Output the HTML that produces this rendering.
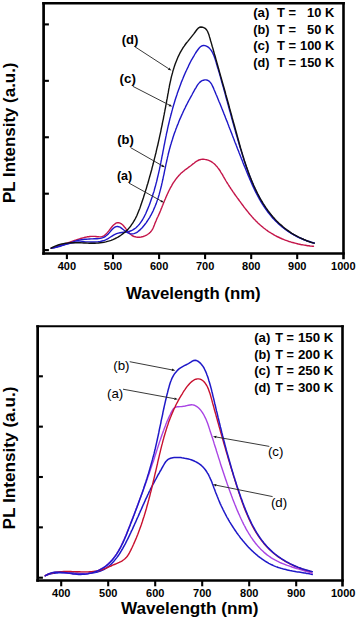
<!DOCTYPE html>
<html><head><meta charset="utf-8"><style>
html,body{margin:0;padding:0;background:#fff;width:357px;height:618px;overflow:hidden}
svg{display:block}
</style></head><body>
<svg width="357" height="618" viewBox="0 0 357 618">
<rect width="357" height="618" fill="#fff"/>
<line x1="42.25" y1="3.25" x2="344.8" y2="3.25" stroke="#000" stroke-width="2.3"/>
<line x1="43.6" y1="2.1" x2="43.6" y2="254.75" stroke="#000" stroke-width="2.7"/>
<line x1="42.25" y1="253.45" x2="344.8" y2="253.45" stroke="#000" stroke-width="2.6"/>
<line x1="343.5" y1="2.1" x2="343.5" y2="259.2" stroke="#000" stroke-width="2.6"/>
<line x1="43.7" y1="24.4" x2="48.9" y2="24.4" stroke="#000" stroke-width="2.1"/>
<line x1="43.7" y1="80.83" x2="48.9" y2="80.83" stroke="#000" stroke-width="2.1"/>
<line x1="43.7" y1="137.26" x2="48.9" y2="137.26" stroke="#000" stroke-width="2.1"/>
<line x1="43.7" y1="193.69" x2="48.9" y2="193.69" stroke="#000" stroke-width="2.1"/>
<line x1="43.7" y1="250.1" x2="48.9" y2="250.1" stroke="#000" stroke-width="2.1"/>
<line x1="66.9" y1="253" x2="66.9" y2="259.1" stroke="#000" stroke-width="2.1"/>
<text x="66.9" y="269.5" font-size="11" font-weight="bold" text-anchor="middle" font-family="Liberation Sans, sans-serif" >400</text>
<line x1="113.0" y1="253" x2="113.0" y2="259.1" stroke="#000" stroke-width="2.1"/>
<text x="113.0" y="269.5" font-size="11" font-weight="bold" text-anchor="middle" font-family="Liberation Sans, sans-serif" >500</text>
<line x1="159.1" y1="253" x2="159.1" y2="259.1" stroke="#000" stroke-width="2.1"/>
<text x="159.1" y="269.5" font-size="11" font-weight="bold" text-anchor="middle" font-family="Liberation Sans, sans-serif" >600</text>
<line x1="205.1" y1="253" x2="205.1" y2="259.1" stroke="#000" stroke-width="2.1"/>
<text x="205.1" y="269.5" font-size="11" font-weight="bold" text-anchor="middle" font-family="Liberation Sans, sans-serif" >700</text>
<line x1="251.2" y1="253" x2="251.2" y2="259.1" stroke="#000" stroke-width="2.1"/>
<text x="251.2" y="269.5" font-size="11" font-weight="bold" text-anchor="middle" font-family="Liberation Sans, sans-serif" >800</text>
<line x1="297.2" y1="253" x2="297.2" y2="259.1" stroke="#000" stroke-width="2.1"/>
<text x="297.2" y="269.5" font-size="11" font-weight="bold" text-anchor="middle" font-family="Liberation Sans, sans-serif" >900</text>
<text x="343.3" y="269.5" font-size="11" font-weight="bold" text-anchor="middle" font-family="Liberation Sans, sans-serif" >1000</text>
<text x="193.4" y="299" font-size="16.8" font-weight="bold" text-anchor="middle" font-family="Liberation Sans, sans-serif" >Wavelength (nm)</text>
<text transform="translate(14.6,203) rotate(-90)" font-size="16.9" font-weight="bold" font-family="Liberation Sans, sans-serif">PL Intensity (a.u.)</text>
<text x="253.2" y="17.4" font-size="12" font-weight="bold" text-anchor="start" font-family="Liberation Sans, sans-serif" textLength="16.2" lengthAdjust="spacingAndGlyphs">(a)</text>
<text x="277.0" y="17.4" font-size="12" font-weight="bold" text-anchor="start" font-family="Liberation Sans, sans-serif" textLength="19" lengthAdjust="spacingAndGlyphs">T =</text>
<text x="321.4" y="17.4" font-size="12" font-weight="bold" text-anchor="end" font-family="Liberation Sans, sans-serif" textLength="14.3" lengthAdjust="spacingAndGlyphs">10</text>
<text x="325.0" y="17.4" font-size="12" font-weight="bold" text-anchor="start" font-family="Liberation Sans, sans-serif" textLength="9.3" lengthAdjust="spacingAndGlyphs">K</text>
<text x="253.2" y="33.8" font-size="12" font-weight="bold" text-anchor="start" font-family="Liberation Sans, sans-serif" textLength="16.2" lengthAdjust="spacingAndGlyphs">(b)</text>
<text x="277.0" y="33.8" font-size="12" font-weight="bold" text-anchor="start" font-family="Liberation Sans, sans-serif" textLength="19" lengthAdjust="spacingAndGlyphs">T =</text>
<text x="321.4" y="33.8" font-size="12" font-weight="bold" text-anchor="end" font-family="Liberation Sans, sans-serif" textLength="14.3" lengthAdjust="spacingAndGlyphs">50</text>
<text x="325.0" y="33.8" font-size="12" font-weight="bold" text-anchor="start" font-family="Liberation Sans, sans-serif" textLength="9.3" lengthAdjust="spacingAndGlyphs">K</text>
<text x="253.2" y="50.199999999999996" font-size="12" font-weight="bold" text-anchor="start" font-family="Liberation Sans, sans-serif" textLength="16.2" lengthAdjust="spacingAndGlyphs">(c)</text>
<text x="277.0" y="50.199999999999996" font-size="12" font-weight="bold" text-anchor="start" font-family="Liberation Sans, sans-serif" textLength="19" lengthAdjust="spacingAndGlyphs">T =</text>
<text x="321.4" y="50.199999999999996" font-size="12" font-weight="bold" text-anchor="end" font-family="Liberation Sans, sans-serif" textLength="21.4" lengthAdjust="spacingAndGlyphs">100</text>
<text x="325.0" y="50.199999999999996" font-size="12" font-weight="bold" text-anchor="start" font-family="Liberation Sans, sans-serif" textLength="9.3" lengthAdjust="spacingAndGlyphs">K</text>
<text x="253.2" y="66.6" font-size="12" font-weight="bold" text-anchor="start" font-family="Liberation Sans, sans-serif" textLength="16.2" lengthAdjust="spacingAndGlyphs">(d)</text>
<text x="277.0" y="66.6" font-size="12" font-weight="bold" text-anchor="start" font-family="Liberation Sans, sans-serif" textLength="19" lengthAdjust="spacingAndGlyphs">T =</text>
<text x="321.4" y="66.6" font-size="12" font-weight="bold" text-anchor="end" font-family="Liberation Sans, sans-serif" textLength="21.4" lengthAdjust="spacingAndGlyphs">150</text>
<text x="325.0" y="66.6" font-size="12" font-weight="bold" text-anchor="start" font-family="Liberation Sans, sans-serif" textLength="9.3" lengthAdjust="spacingAndGlyphs">K</text>
<path d="M51.3,248.2 L52.4,247.9 L53.6,247.5 L54.7,247.2 L55.8,246.9 L57.0,246.5 L58.1,246.2 L59.2,245.8 L60.3,245.4 L61.5,245.0 L62.6,244.7 L63.7,244.3 L64.8,243.9 L66.0,243.5 L67.1,243.1 L68.2,242.7 L69.3,242.3 L70.4,241.9 L71.6,241.5 L72.7,241.1 L73.8,240.7 L74.9,240.3 L76.1,240.0 L77.2,239.6 L78.3,239.2 L79.4,238.9 L80.6,238.5 L81.7,238.2 L82.9,237.9 L84.0,237.6 L85.1,237.3 L86.3,237.1 L87.5,236.8 L88.6,236.7 L89.8,236.5 L91.0,236.4 L92.2,236.4 L93.4,236.4 L94.6,236.4 L95.8,236.5 L97.1,236.7 L98.3,236.8 L99.4,236.9 L100.6,236.9 L101.6,236.7 L102.6,236.4 L103.5,236.0 L104.4,235.5 L105.2,234.8 L106.0,234.1 L106.8,233.3 L107.6,232.4 L108.4,231.4 L109.2,230.4 L109.9,229.4 L110.8,228.3 L111.6,227.3 L112.4,226.3 L113.3,225.3 L114.2,224.5 L115.1,223.8 L116.0,223.2 L117.3,222.7 L118.7,222.6 L120.0,223.1 L121.0,223.6 L121.9,224.3 L122.8,225.1 L123.7,226.0 L124.5,227.0 L125.4,228.0 L126.2,229.1 L127.0,230.1 L127.8,231.2 L128.6,232.2 L129.4,233.1 L130.2,234.0 L131.1,234.8 L132.0,235.5 L133.0,236.0 L134.1,236.5 L135.2,236.8 L136.3,237.1 L137.4,237.2 L138.5,237.2 L139.7,237.2 L140.9,237.1 L142.0,236.8 L143.2,236.5 L144.3,236.1 L145.4,235.7 L146.5,235.1 L147.5,234.5 L148.5,233.8 L149.4,233.1 L150.3,232.2 L151.1,231.3 L151.8,230.4 L152.4,229.4 L153.0,228.3 L153.5,227.2 L153.9,226.1 L154.4,225.0 L154.8,223.8 L155.2,222.7 L155.7,221.6 L156.2,220.5 L156.6,219.4 L157.1,218.3 L157.6,217.2 L158.1,216.2 L158.6,215.1 L159.1,214.0 L159.6,212.9 L160.0,211.9 L160.5,210.8 L160.9,209.7 L161.3,208.6 L161.8,207.5 L162.2,206.4 L162.7,205.3 L163.1,204.2 L163.5,203.1 L164.0,202.0 L164.4,200.9 L164.9,199.8 L165.4,198.7 L165.8,197.6 L166.3,196.5 L166.8,195.4 L167.3,194.3 L167.8,193.2 L168.3,192.1 L168.8,191.0 L169.3,190.0 L169.9,188.9 L170.4,187.8 L171.0,186.8 L171.6,185.8 L172.2,184.7 L172.8,183.7 L173.4,182.7 L174.0,181.8 L174.7,180.8 L175.4,179.8 L176.1,178.9 L176.8,178.0 L177.5,177.1 L178.3,176.2 L179.1,175.3 L179.9,174.5 L180.7,173.6 L181.6,172.8 L182.5,172.1 L183.4,171.3 L184.3,170.6 L185.2,169.8 L186.2,169.1 L187.2,168.4 L188.1,167.7 L189.1,166.9 L190.1,166.2 L191.1,165.5 L192.0,164.7 L193.0,163.9 L194.0,163.2 L194.9,162.4 L195.9,161.7 L196.9,161.1 L197.9,160.5 L199.0,160.0 L200.0,159.7 L201.1,159.4 L202.3,159.3 L203.4,159.3 L204.6,159.4 L205.8,159.6 L206.9,159.8 L208.1,160.2 L209.2,160.6 L210.3,161.1 L211.3,161.7 L212.3,162.3 L213.2,163.0 L214.2,163.7 L215.0,164.5 L215.8,165.4 L216.6,166.2 L217.4,167.1 L218.1,168.1 L218.8,169.0 L219.5,170.0 L220.2,171.0 L220.8,172.1 L221.4,173.1 L222.1,174.1 L222.7,175.2 L223.3,176.3 L223.9,177.3 L224.5,178.4 L225.1,179.4 L225.7,180.5 L226.3,181.5 L226.9,182.5 L227.6,183.5 L228.2,184.5 L228.8,185.5 L229.5,186.5 L230.1,187.5 L230.8,188.5 L231.4,189.5 L232.1,190.4 L232.7,191.4 L233.4,192.4 L234.1,193.3 L234.7,194.3 L235.4,195.2 L236.1,196.2 L236.8,197.1 L237.5,198.1 L238.2,199.0 L238.9,200.0 L239.5,200.9 L240.3,201.9 L241.0,202.9 L241.7,203.8 L242.4,204.8 L243.1,205.7 L243.8,206.7 L244.5,207.6 L245.3,208.6 L246.0,209.5 L246.8,210.5 L247.5,211.4 L248.3,212.3 L249.0,213.3 L249.8,214.2 L250.6,215.1 L251.4,216.0 L252.1,216.9 L252.9,217.8 L253.7,218.7 L254.6,219.5 L255.4,220.4 L256.2,221.2 L257.1,222.1 L257.9,222.9 L258.8,223.7 L259.6,224.5 L260.5,225.3 L261.4,226.1 L262.3,226.8 L263.2,227.6 L264.1,228.3 L265.1,229.0 L266.0,229.7 L267.0,230.4 L267.9,231.1 L268.9,231.8 L269.9,232.4 L270.9,233.0 L271.9,233.6 L272.9,234.2 L273.9,234.8 L274.9,235.4 L276.0,236.0 L277.0,236.5 L278.1,237.0 L279.2,237.5 L280.2,238.0 L281.3,238.5 L282.4,239.0 L283.5,239.4 L284.6,239.9 L285.8,240.3 L286.9,240.7 L288.0,241.1 L289.1,241.5 L290.3,241.8 L291.4,242.2 L292.6,242.5 L293.7,242.8 L294.9,243.1 L296.1,243.4 L297.2,243.7 L298.4,244.0 L299.6,244.2 L300.7,244.5 L301.9,244.7 L303.1,244.9 L304.2,245.1 L305.4,245.3 L306.6,245.5 L307.7,245.7 L308.9,245.8 L310.1,246.0 L311.2,246.1 L312.4,246.2 L313.5,246.3 L313.5,246.3" fill="none" stroke="#c4164a" stroke-width="1.4" stroke-linejoin="round" stroke-linecap="round"/>
<path d="M51.3,248.1 L52.8,247.9 L54.4,247.7 L55.9,247.4 L57.5,247.0 L59.0,246.6 L60.5,246.2 L62.0,245.7 L63.5,245.2 L65.0,244.7 L66.5,244.2 L68.0,243.7 L69.4,243.1 L70.9,242.6 L72.4,242.1 L73.9,241.6 L75.4,241.1 L76.9,240.7 L78.5,240.3 L80.0,240.0 L81.5,239.7 L83.1,239.5 L84.7,239.3 L86.2,239.2 L87.8,239.1 L89.4,239.0 L91.0,238.9 L92.5,238.9 L94.1,238.8 L95.6,238.8 L97.1,238.7 L98.6,238.6 L100.1,238.4 L101.5,238.1 L102.9,237.7 L104.2,237.1 L105.5,236.3 L106.8,235.3 L108.0,234.2 L109.2,232.9 L110.3,231.6 L111.4,230.3 L112.6,229.1 L113.7,228.0 L114.9,227.2 L116.1,226.6 L117.3,226.4 L118.6,226.7 L120.0,227.2 L121.4,228.1 L122.8,229.2 L124.2,230.3 L125.7,231.4 L127.1,232.4 L128.5,233.2 L129.9,233.7 L131.3,233.9 L132.6,233.9 L133.9,233.6 L135.2,233.2 L136.5,232.6 L137.7,231.8 L138.8,230.9 L140.0,229.9 L141.1,228.8 L142.2,227.7 L143.2,226.5 L144.2,225.3 L145.2,224.0 L146.1,222.8 L147.0,221.5 L147.9,220.2 L148.7,218.9 L149.6,217.6 L150.3,216.2 L151.1,214.9 L151.8,213.5 L152.5,212.1 L153.2,210.7 L153.8,209.3 L154.4,207.9 L155.0,206.5 L155.6,205.0 L156.2,203.6 L156.7,202.1 L157.2,200.6 L157.7,199.2 L158.2,197.7 L158.6,196.2 L159.1,194.7 L159.5,193.1 L159.9,191.6 L160.3,190.1 L160.7,188.6 L161.1,187.0 L161.5,185.5 L161.8,183.9 L162.2,182.4 L162.5,180.8 L162.9,179.3 L163.2,177.7 L163.5,176.1 L163.9,174.6 L164.2,173.0 L164.5,171.4 L164.8,169.9 L165.2,168.3 L165.5,166.7 L165.8,165.2 L166.1,163.6 L166.5,162.1 L166.8,160.5 L167.2,158.9 L167.5,157.4 L167.9,155.9 L168.2,154.3 L168.6,152.8 L169.0,151.3 L169.4,149.7 L169.8,148.2 L170.2,146.7 L170.6,145.2 L171.1,143.7 L171.5,142.2 L172.0,140.7 L172.5,139.2 L172.9,137.7 L173.4,136.3 L173.9,134.8 L174.4,133.3 L174.9,131.9 L175.5,130.4 L176.0,128.9 L176.6,127.5 L177.1,126.0 L177.7,124.6 L178.3,123.2 L178.8,121.7 L179.4,120.3 L180.0,118.9 L180.7,117.4 L181.3,116.0 L181.9,114.6 L182.6,113.2 L183.2,111.8 L183.9,110.3 L184.6,108.9 L185.3,107.5 L185.9,106.1 L186.7,104.7 L187.4,103.3 L188.1,101.9 L188.8,100.5 L189.6,99.2 L190.3,97.8 L191.1,96.4 L191.9,95.0 L192.6,93.5 L193.4,92.1 L194.2,90.7 L195.0,89.2 L195.9,87.8 L196.7,86.3 L197.6,84.9 L198.6,83.6 L199.7,82.4 L200.9,81.4 L202.1,80.7 L203.5,80.2 L204.8,79.9 L206.1,79.9 L207.4,80.2 L208.6,80.8 L209.6,81.6 L210.5,82.6 L211.4,83.8 L212.1,85.2 L212.8,86.6 L213.5,88.1 L214.1,89.7 L214.8,91.2 L215.4,92.7 L216.0,94.2 L216.7,95.7 L217.3,97.2 L217.9,98.7 L218.5,100.2 L219.1,101.7 L219.8,103.2 L220.4,104.7 L221.0,106.2 L221.6,107.7 L222.1,109.1 L222.7,110.6 L223.3,112.1 L223.9,113.6 L224.5,115.0 L225.1,116.5 L225.6,118.0 L226.2,119.4 L226.8,120.9 L227.4,122.3 L227.9,123.8 L228.5,125.3 L229.0,126.7 L229.6,128.2 L230.2,129.6 L230.7,131.1 L231.3,132.5 L231.9,134.0 L232.4,135.4 L233.0,136.9 L233.5,138.3 L234.1,139.8 L234.6,141.2 L235.2,142.7 L235.8,144.1 L236.3,145.5 L236.9,147.0 L237.4,148.4 L238.0,149.9 L238.6,151.3 L239.1,152.8 L239.7,154.2 L240.3,155.7 L240.8,157.1 L241.4,158.6 L242.0,160.0 L242.6,161.5 L243.1,163.0 L243.7,164.4 L244.3,165.9 L244.9,167.3 L245.5,168.8 L246.1,170.3 L246.7,171.7 L247.3,173.2 L247.9,174.7 L248.5,176.1 L249.1,177.6 L249.7,179.1 L250.4,180.5 L251.0,182.0 L251.7,183.5 L252.3,184.9 L253.0,186.4 L253.6,187.8 L254.3,189.2 L255.0,190.7 L255.7,192.1 L256.4,193.5 L257.2,194.9 L257.9,196.3 L258.7,197.7 L259.4,199.1 L260.2,200.5 L261.0,201.8 L261.8,203.2 L262.7,204.5 L263.5,205.8 L264.4,207.1 L265.2,208.4 L266.1,209.7 L267.0,210.9 L268.0,212.2 L268.9,213.4 L269.9,214.6 L270.9,215.8 L271.9,217.0 L272.9,218.2 L274.0,219.3 L275.1,220.4 L276.2,221.5 L277.3,222.6 L278.4,223.7 L279.6,224.7 L280.8,225.7 L282.0,226.7 L283.2,227.7 L284.5,228.6 L285.8,229.5 L287.0,230.4 L288.4,231.3 L289.7,232.2 L291.0,233.0 L292.4,233.8 L293.7,234.6 L295.1,235.4 L296.5,236.1 L297.9,236.9 L299.3,237.6 L300.8,238.2 L302.2,238.9 L303.6,239.5 L305.1,240.2 L306.5,240.8 L308.0,241.3 L309.5,241.9 L311.0,242.4 L312.4,242.9 L313.2,243.2" fill="none" stroke="#1e18c8" stroke-width="1.4" stroke-linejoin="round" stroke-linecap="round"/>
<path d="M51.3,248.2 L53.0,247.8 L54.7,247.3 L56.4,246.9 L58.1,246.4 L59.7,245.9 L61.4,245.5 L63.1,245.0 L64.8,244.6 L66.5,244.1 L68.2,243.7 L69.9,243.3 L71.6,243.0 L73.3,242.7 L75.1,242.4 L76.8,242.2 L78.6,242.0 L80.3,241.9 L82.1,241.8 L83.9,241.8 L85.7,241.9 L87.4,241.9 L89.2,241.9 L91.0,242.0 L92.8,242.0 L94.5,242.0 L96.3,241.9 L98.0,241.8 L99.7,241.6 L101.3,241.2 L102.9,240.8 L104.5,240.3 L106.1,239.6 L107.6,238.9 L109.0,238.0 L110.5,237.0 L112.0,236.1 L113.5,235.2 L115.0,234.4 L116.6,233.7 L118.3,233.1 L120.0,232.8 L121.8,232.5 L123.6,232.3 L125.4,232.1 L127.2,231.9 L128.8,231.5 L130.4,231.0 L131.9,230.3 L133.3,229.6 L134.7,228.7 L136.0,227.7 L137.2,226.6 L138.3,225.4 L139.4,224.2 L140.4,222.8 L141.4,221.4 L142.4,220.0 L143.2,218.5 L144.1,216.9 L144.9,215.3 L145.7,213.7 L146.4,212.0 L147.1,210.4 L147.8,208.7 L148.5,207.0 L149.2,205.3 L149.8,203.7 L150.4,202.0 L151.0,200.3 L151.6,198.6 L152.2,196.9 L152.7,195.2 L153.2,193.5 L153.8,191.9 L154.3,190.2 L154.7,188.5 L155.2,186.8 L155.7,185.1 L156.1,183.4 L156.6,181.7 L157.0,180.0 L157.4,178.2 L157.8,176.5 L158.2,174.8 L158.6,173.1 L159.0,171.4 L159.4,169.7 L159.7,168.0 L160.1,166.3 L160.4,164.6 L160.8,162.9 L161.1,161.1 L161.5,159.4 L161.8,157.7 L162.1,156.0 L162.5,154.3 L162.8,152.6 L163.1,150.8 L163.5,149.1 L163.8,147.4 L164.1,145.7 L164.5,144.0 L164.8,142.3 L165.1,140.6 L165.5,138.8 L165.8,137.1 L166.2,135.4 L166.5,133.7 L166.9,132.0 L167.3,130.3 L167.6,128.6 L168.0,126.9 L168.4,125.2 L168.8,123.5 L169.2,121.8 L169.6,120.1 L170.0,118.4 L170.5,116.7 L170.9,115.0 L171.4,113.3 L171.8,111.6 L172.3,109.9 L172.7,108.2 L173.2,106.5 L173.7,104.8 L174.2,103.2 L174.7,101.5 L175.2,99.8 L175.8,98.1 L176.3,96.5 L176.9,94.8 L177.4,93.1 L178.0,91.5 L178.6,89.8 L179.2,88.2 L179.8,86.5 L180.4,84.9 L181.0,83.2 L181.6,81.6 L182.3,80.0 L183.0,78.3 L183.6,76.7 L184.3,75.1 L185.0,73.5 L185.7,71.9 L186.5,70.3 L187.2,68.7 L188.0,67.1 L188.7,65.5 L189.5,63.9 L190.3,62.3 L191.1,60.7 L192.0,59.2 L192.9,57.6 L193.8,56.1 L194.7,54.5 L195.6,53.0 L196.6,51.5 L197.7,50.0 L198.8,48.5 L199.9,47.3 L201.1,46.3 L202.3,45.7 L203.7,45.4 L205.0,45.6 L206.4,46.1 L207.8,46.9 L209.1,47.9 L210.2,49.1 L211.2,50.4 L212.1,51.8 L212.9,53.4 L213.6,55.0 L214.3,56.7 L214.9,58.4 L215.4,60.1 L216.0,61.9 L216.5,63.7 L217.0,65.4 L217.5,67.2 L218.1,68.9 L218.6,70.7 L219.1,72.4 L219.6,74.1 L220.1,75.9 L220.6,77.6 L221.1,79.3 L221.5,81.0 L222.0,82.7 L222.5,84.5 L223.0,86.2 L223.5,87.9 L223.9,89.6 L224.4,91.3 L224.9,92.9 L225.3,94.6 L225.8,96.3 L226.2,98.0 L226.7,99.7 L227.2,101.4 L227.6,103.0 L228.1,104.7 L228.5,106.4 L229.0,108.1 L229.4,109.7 L229.9,111.4 L230.4,113.1 L230.8,114.7 L231.3,116.4 L231.7,118.1 L232.2,119.7 L232.6,121.4 L233.1,123.1 L233.6,124.7 L234.0,126.4 L234.5,128.1 L235.0,129.7 L235.4,131.4 L235.9,133.1 L236.4,134.7 L236.9,136.4 L237.4,138.1 L237.8,139.8 L238.3,141.4 L238.8,143.1 L239.3,144.8 L239.8,146.5 L240.3,148.1 L240.9,149.8 L241.4,151.5 L241.9,153.2 L242.4,154.9 L243.0,156.6 L243.5,158.3 L244.0,160.0 L244.6,161.7 L245.2,163.3 L245.7,165.0 L246.3,166.7 L246.9,168.4 L247.5,170.1 L248.1,171.8 L248.7,173.5 L249.4,175.1 L250.0,176.8 L250.7,178.5 L251.3,180.1 L252.0,181.8 L252.7,183.4 L253.4,185.0 L254.1,186.7 L254.8,188.3 L255.6,189.9 L256.3,191.5 L257.1,193.1 L257.9,194.6 L258.7,196.2 L259.6,197.7 L260.4,199.3 L261.3,200.8 L262.1,202.3 L263.0,203.8 L263.9,205.2 L264.9,206.7 L265.8,208.1 L266.8,209.5 L267.8,210.9 L268.8,212.3 L269.9,213.7 L270.9,215.0 L272.0,216.4 L273.1,217.7 L274.2,218.9 L275.4,220.2 L276.6,221.4 L277.8,222.6 L279.0,223.8 L280.3,225.0 L281.5,226.1 L282.8,227.2 L284.2,228.3 L285.5,229.4 L286.9,230.4 L288.3,231.4 L289.8,232.4 L291.2,233.3 L292.8,234.2 L294.3,235.1 L295.8,235.9 L297.4,236.8 L299.1,237.6 L300.7,238.3 L302.4,239.0 L304.1,239.7 L305.9,240.4 L307.7,241.0 L309.5,241.5 L311.3,242.1 L313.2,242.6 L314.2,242.8" fill="none" stroke="#1e18c8" stroke-width="1.4" stroke-linejoin="round" stroke-linecap="round"/>
<path d="M51.1,248.2 L52.0,247.7 L52.9,247.2 L54.6,246.4 L56.4,245.6 L58.2,245.0 L60.0,244.4 L61.8,244.0 L63.6,243.6 L65.5,243.3 L67.3,243.1 L69.1,242.9 L70.9,242.8 L72.8,242.7 L74.6,242.7 L76.4,242.7 L78.3,242.8 L80.1,242.8 L81.9,242.9 L83.8,243.0 L85.6,243.0 L87.5,243.1 L89.3,243.2 L91.1,243.2 L93.0,243.2 L94.8,243.2 L96.7,243.1 L98.5,243.0 L100.3,242.8 L102.1,242.6 L103.9,242.3 L105.8,241.9 L107.6,241.4 L109.4,240.9 L111.1,240.3 L112.9,239.6 L114.6,238.8 L116.3,238.0 L118.0,237.1 L119.6,236.1 L121.2,235.0 L122.7,233.9 L124.2,232.8 L125.6,231.6 L127.0,230.3 L128.2,229.0 L129.4,227.6 L130.6,226.2 L131.6,224.7 L132.7,223.2 L133.6,221.7 L134.5,220.1 L135.4,218.5 L136.2,216.9 L137.0,215.2 L137.7,213.5 L138.4,211.8 L139.1,210.1 L139.8,208.4 L140.4,206.6 L141.0,204.8 L141.6,203.1 L142.2,201.3 L142.8,199.5 L143.4,197.7 L143.9,196.0 L144.5,194.2 L145.1,192.4 L145.6,190.6 L146.2,188.8 L146.7,187.1 L147.2,185.3 L147.8,183.5 L148.3,181.7 L148.8,179.9 L149.3,178.1 L149.8,176.3 L150.3,174.6 L150.8,172.8 L151.3,171.0 L151.8,169.2 L152.2,167.4 L152.7,165.6 L153.2,163.8 L153.6,162.0 L154.1,160.2 L154.5,158.4 L155.0,156.6 L155.4,154.8 L155.9,153.0 L156.3,151.2 L156.7,149.4 L157.1,147.6 L157.6,145.8 L158.0,144.0 L158.4,142.2 L158.8,140.4 L159.2,138.6 L159.6,136.7 L160.0,134.9 L160.4,133.1 L160.8,131.3 L161.1,129.5 L161.5,127.7 L161.9,125.8 L162.3,124.0 L162.6,122.2 L163.0,120.4 L163.4,118.6 L163.7,116.7 L164.1,114.9 L164.4,113.1 L164.8,111.2 L165.1,109.4 L165.5,107.6 L165.8,105.7 L166.2,103.9 L166.5,102.1 L166.8,100.2 L167.2,98.4 L167.5,96.6 L167.8,94.7 L168.2,92.9 L168.5,91.0 L168.8,89.2 L169.2,87.4 L169.5,85.5 L169.9,83.7 L170.3,81.9 L170.7,80.1 L171.1,78.2 L171.5,76.4 L172.0,74.6 L172.5,72.9 L172.9,71.1 L173.5,69.3 L174.0,67.6 L174.6,65.8 L175.2,64.1 L175.8,62.4 L176.5,60.7 L177.2,59.0 L177.9,57.3 L178.7,55.6 L179.5,54.0 L180.3,52.4 L181.2,50.8 L182.2,49.2 L183.1,47.6 L184.2,46.1 L185.3,44.5 L186.4,43.0 L187.6,41.6 L188.8,40.1 L190.0,38.6 L191.2,37.1 L192.4,35.6 L193.6,34.1 L194.8,32.5 L195.9,31.0 L197.0,29.5 L198.2,28.2 L199.5,27.3 L201.0,27.0 L202.6,27.2 L204.2,27.8 L205.6,28.7 L206.7,30.0 L207.6,31.5 L208.3,33.2 L209.0,35.1 L209.5,36.9 L210.1,38.8 L210.6,40.7 L211.2,42.6 L211.7,44.4 L212.2,46.3 L212.8,48.1 L213.3,50.0 L213.8,51.8 L214.3,53.6 L214.9,55.5 L215.4,57.3 L215.9,59.1 L216.4,60.9 L216.9,62.7 L217.4,64.5 L217.9,66.3 L218.4,68.0 L218.9,69.8 L219.4,71.6 L219.9,73.4 L220.4,75.2 L220.9,76.9 L221.4,78.7 L221.9,80.5 L222.4,82.2 L222.9,84.0 L223.4,85.7 L223.9,87.5 L224.4,89.2 L224.9,91.0 L225.4,92.8 L225.8,94.5 L226.3,96.3 L226.8,98.0 L227.3,99.8 L227.8,101.5 L228.3,103.3 L228.8,105.0 L229.2,106.8 L229.7,108.6 L230.2,110.3 L230.7,112.1 L231.2,113.9 L231.7,115.6 L232.1,117.4 L232.6,119.2 L233.1,121.0 L233.6,122.7 L234.1,124.5 L234.6,126.3 L235.1,128.1 L235.6,129.9 L236.1,131.7 L236.6,133.5 L237.1,135.4 L237.6,137.2 L238.1,139.0 L238.6,140.8 L239.1,142.7 L239.6,144.5 L240.1,146.3 L240.6,148.2 L241.2,150.0 L241.7,151.8 L242.3,153.6 L242.8,155.5 L243.4,157.3 L243.9,159.1 L244.5,160.9 L245.1,162.7 L245.7,164.5 L246.3,166.3 L246.9,168.1 L247.6,169.9 L248.2,171.7 L248.9,173.5 L249.5,175.3 L250.2,177.0 L250.9,178.8 L251.6,180.5 L252.3,182.2 L253.1,184.0 L253.8,185.7 L254.6,187.4 L255.4,189.1 L256.2,190.7 L257.0,192.4 L257.8,194.0 L258.7,195.7 L259.5,197.3 L260.4,198.9 L261.3,200.5 L262.3,202.0 L263.2,203.6 L264.2,205.1 L265.2,206.6 L266.2,208.1 L267.3,209.6 L268.3,211.1 L269.4,212.5 L270.5,213.9 L271.6,215.3 L272.8,216.7 L274.0,218.0 L275.2,219.4 L276.4,220.7 L277.7,221.9 L279.0,223.2 L280.3,224.4 L281.7,225.6 L283.0,226.8 L284.4,228.0 L285.9,229.1 L287.3,230.2 L288.8,231.2 L290.4,232.3 L291.9,233.3 L293.5,234.3 L295.1,235.2 L296.8,236.1 L298.5,237.0 L300.2,237.9 L302.0,238.7 L303.8,239.5 L305.6,240.2 L307.4,241.0 L308.4,241.3 L309.3,241.6 L310.3,242.0 L311.3,242.3 L312.3,242.6 L313.2,242.9 L314.2,243.2 L314.2,243.2" fill="none" stroke="#111111" stroke-width="1.4" stroke-linejoin="round" stroke-linecap="round"/>
<text x="121.7" y="44.3" font-size="12.4" font-weight="bold" text-anchor="start" font-family="Liberation Sans, sans-serif" textLength="16.7" lengthAdjust="spacingAndGlyphs">(d)</text>
<text x="119.5" y="83.2" font-size="12.4" font-weight="bold" text-anchor="start" font-family="Liberation Sans, sans-serif" textLength="16.4" lengthAdjust="spacingAndGlyphs">(c)</text>
<text x="117.3" y="144.4" font-size="12.4" font-weight="bold" text-anchor="start" font-family="Liberation Sans, sans-serif" textLength="16.6" lengthAdjust="spacingAndGlyphs">(b)</text>
<text x="116.9" y="180.3" font-size="12.4" font-weight="bold" text-anchor="start" font-family="Liberation Sans, sans-serif" textLength="15.3" lengthAdjust="spacingAndGlyphs">(a)</text>
<line x1="134.5" y1="46.5" x2="168.5" y2="68.6" stroke="#222" stroke-width="0.9"/><polygon points="171.4,70.5 167.9,69.7 169.2,67.6" fill="#111"/>
<line x1="132.8" y1="86.3" x2="169.2" y2="105.0" stroke="#222" stroke-width="0.9"/><polygon points="172.2,106.6 168.6,106.2 169.8,103.9" fill="#111"/>
<line x1="130.4" y1="147.5" x2="162.0" y2="165.6" stroke="#222" stroke-width="0.9"/><polygon points="164.9,167.3 161.3,166.7 162.6,164.5" fill="#111"/>
<line x1="129.0" y1="183.1" x2="161.0" y2="200.9" stroke="#222" stroke-width="0.9"/><polygon points="164.0,202.6 160.4,202.0 161.6,199.9" fill="#111"/>
<line x1="36.3" y1="326.2" x2="343.8" y2="326.2" stroke="#000" stroke-width="2.1"/>
<line x1="37.65" y1="325.2" x2="37.65" y2="581.85" stroke="#000" stroke-width="2.7"/>
<line x1="36.3" y1="580.5" x2="343.8" y2="580.5" stroke="#000" stroke-width="2.7"/>
<line x1="342.5" y1="325.2" x2="342.5" y2="586.6" stroke="#000" stroke-width="2.6"/>
<line x1="37.8" y1="376.3" x2="42.9" y2="376.3" stroke="#000" stroke-width="2.1"/>
<line x1="37.8" y1="426.65" x2="42.9" y2="426.65" stroke="#000" stroke-width="2.1"/>
<line x1="37.8" y1="477.0" x2="42.9" y2="477.0" stroke="#000" stroke-width="2.1"/>
<line x1="37.8" y1="527.35" x2="42.9" y2="527.35" stroke="#000" stroke-width="2.1"/>
<line x1="37.8" y1="577.7" x2="42.9" y2="577.7" stroke="#000" stroke-width="2.1"/>
<line x1="61.2" y1="580.5" x2="61.2" y2="586.3" stroke="#000" stroke-width="2.1"/>
<text x="61.2" y="597" font-size="11" font-weight="bold" text-anchor="middle" font-family="Liberation Sans, sans-serif" >400</text>
<line x1="108.2" y1="580.5" x2="108.2" y2="586.3" stroke="#000" stroke-width="2.1"/>
<text x="108.2" y="597" font-size="11" font-weight="bold" text-anchor="middle" font-family="Liberation Sans, sans-serif" >500</text>
<line x1="155.2" y1="580.5" x2="155.2" y2="586.3" stroke="#000" stroke-width="2.1"/>
<text x="155.2" y="597" font-size="11" font-weight="bold" text-anchor="middle" font-family="Liberation Sans, sans-serif" >600</text>
<line x1="202.2" y1="580.5" x2="202.2" y2="586.3" stroke="#000" stroke-width="2.1"/>
<text x="202.2" y="597" font-size="11" font-weight="bold" text-anchor="middle" font-family="Liberation Sans, sans-serif" >700</text>
<line x1="249.2" y1="580.5" x2="249.2" y2="586.3" stroke="#000" stroke-width="2.1"/>
<text x="249.2" y="597" font-size="11" font-weight="bold" text-anchor="middle" font-family="Liberation Sans, sans-serif" >800</text>
<line x1="296.2" y1="580.5" x2="296.2" y2="586.3" stroke="#000" stroke-width="2.1"/>
<text x="296.2" y="597" font-size="11" font-weight="bold" text-anchor="middle" font-family="Liberation Sans, sans-serif" >900</text>
<text x="343.2" y="597" font-size="11" font-weight="bold" text-anchor="middle" font-family="Liberation Sans, sans-serif" >1000</text>
<text x="120.9" y="613.7" font-size="17.0" font-weight="bold" text-anchor="start" font-family="Liberation Sans, sans-serif" textLength="137.6" lengthAdjust="spacingAndGlyphs">Wavelength (nm)</text>
<text transform="translate(15.3,529.4) rotate(-90)" font-size="17.4" font-weight="bold" textLength="142.8" lengthAdjust="spacingAndGlyphs" font-family="Liberation Sans, sans-serif">PL Intensity (a.u.)</text>
<text x="254.2" y="341.9" font-size="12" font-weight="bold" text-anchor="start" font-family="Liberation Sans, sans-serif" textLength="16.2" lengthAdjust="spacingAndGlyphs">(a)</text>
<text x="275.2" y="341.9" font-size="12" font-weight="bold" text-anchor="start" font-family="Liberation Sans, sans-serif" textLength="18.6" lengthAdjust="spacingAndGlyphs">T =</text>
<text x="297.9" y="341.9" font-size="12" font-weight="bold" text-anchor="start" font-family="Liberation Sans, sans-serif" textLength="35.4" lengthAdjust="spacingAndGlyphs">150 K</text>
<text x="254.2" y="358.53" font-size="12" font-weight="bold" text-anchor="start" font-family="Liberation Sans, sans-serif" textLength="16.2" lengthAdjust="spacingAndGlyphs">(b)</text>
<text x="275.2" y="358.53" font-size="12" font-weight="bold" text-anchor="start" font-family="Liberation Sans, sans-serif" textLength="18.6" lengthAdjust="spacingAndGlyphs">T =</text>
<text x="297.9" y="358.53" font-size="12" font-weight="bold" text-anchor="start" font-family="Liberation Sans, sans-serif" textLength="35.4" lengthAdjust="spacingAndGlyphs">200 K</text>
<text x="254.2" y="375.15999999999997" font-size="12" font-weight="bold" text-anchor="start" font-family="Liberation Sans, sans-serif" textLength="16.2" lengthAdjust="spacingAndGlyphs">(c)</text>
<text x="275.2" y="375.15999999999997" font-size="12" font-weight="bold" text-anchor="start" font-family="Liberation Sans, sans-serif" textLength="18.6" lengthAdjust="spacingAndGlyphs">T =</text>
<text x="297.9" y="375.15999999999997" font-size="12" font-weight="bold" text-anchor="start" font-family="Liberation Sans, sans-serif" textLength="35.4" lengthAdjust="spacingAndGlyphs">250 K</text>
<text x="254.2" y="391.78999999999996" font-size="12" font-weight="bold" text-anchor="start" font-family="Liberation Sans, sans-serif" textLength="16.2" lengthAdjust="spacingAndGlyphs">(d)</text>
<text x="275.2" y="391.78999999999996" font-size="12" font-weight="bold" text-anchor="start" font-family="Liberation Sans, sans-serif" textLength="18.6" lengthAdjust="spacingAndGlyphs">T =</text>
<text x="297.9" y="391.78999999999996" font-size="12" font-weight="bold" text-anchor="start" font-family="Liberation Sans, sans-serif" textLength="35.4" lengthAdjust="spacingAndGlyphs">300 K</text>
<path d="M45.6,575.5 L46.7,575.1 L47.7,574.7 L48.8,574.3 L50.0,574.0 L51.1,573.7 L52.3,573.5 L53.5,573.3 L54.7,573.2 L56.0,573.0 L57.2,572.9 L58.5,572.8 L59.8,572.8 L61.1,572.8 L62.4,572.8 L63.8,572.8 L65.1,572.8 L66.5,572.8 L67.9,572.9 L69.2,572.9 L70.6,573.0 L72.0,573.1 L73.4,573.1 L74.8,573.2 L76.2,573.3 L77.6,573.3 L79.0,573.4 L80.3,573.4 L81.7,573.4 L83.1,573.4 L84.5,573.4 L85.8,573.4 L87.2,573.4 L88.5,573.3 L89.8,573.2 L91.2,573.1 L92.4,572.9 L93.7,572.8 L95.0,572.5 L96.2,572.3 L97.5,572.0 L98.7,571.6 L99.8,571.3 L101.0,570.8 L102.1,570.4 L103.2,569.8 L104.3,569.3 L105.3,568.6 L106.4,568.0 L107.4,567.3 L108.3,566.6 L109.3,565.8 L110.2,565.0 L111.2,564.1 L112.0,563.2 L112.9,562.3 L113.8,561.4 L114.6,560.4 L115.4,559.4 L116.2,558.4 L117.0,557.4 L117.8,556.3 L118.6,555.2 L119.3,554.1 L120.0,553.0 L120.7,551.8 L121.4,550.7 L122.1,549.5 L122.8,548.4 L123.4,547.2 L124.1,546.0 L124.7,544.8 L125.4,543.6 L126.0,542.4 L126.6,541.2 L127.2,540.0 L127.8,538.8 L128.4,537.6 L129.0,536.4 L129.6,535.2 L130.1,534.0 L130.7,532.8 L131.2,531.6 L131.8,530.4 L132.4,529.3 L132.9,528.1 L133.4,526.9 L134.0,525.7 L134.5,524.5 L135.0,523.3 L135.6,522.2 L136.1,521.0 L136.6,519.8 L137.1,518.6 L137.6,517.5 L138.2,516.3 L138.7,515.1 L139.2,513.9 L139.7,512.8 L140.2,511.6 L140.7,510.4 L141.3,509.3 L141.8,508.1 L142.3,506.9 L142.8,505.7 L143.3,504.6 L143.9,503.4 L144.4,502.2 L144.9,501.1 L145.4,499.9 L146.0,498.7 L146.5,497.6 L147.1,496.4 L147.6,495.2 L148.2,494.0 L148.7,492.9 L149.3,491.7 L149.9,490.5 L150.4,489.4 L151.0,488.2 L151.6,487.0 L152.2,485.8 L152.8,484.7 L153.4,483.5 L154.1,482.3 L154.7,481.1 L155.3,479.9 L156.0,478.8 L156.6,477.6 L157.3,476.4 L157.9,475.2 L158.6,474.0 L159.3,472.8 L159.9,471.7 L160.6,470.5 L161.3,469.3 L161.9,468.1 L162.6,467.0 L163.2,465.8 L163.9,464.7 L164.5,463.6 L165.2,462.5 L165.9,461.5 L166.7,460.7 L167.5,459.9 L168.5,459.2 L169.5,458.7 L170.5,458.3 L171.7,458.0 L172.8,457.7 L174.1,457.6 L175.3,457.5 L176.6,457.5 L177.9,457.5 L179.2,457.5 L180.6,457.6 L181.9,457.8 L183.2,457.9 L184.6,458.2 L185.9,458.4 L187.2,458.7 L188.5,459.0 L189.8,459.4 L191.1,459.8 L192.4,460.3 L193.6,460.8 L194.8,461.3 L196.0,461.9 L197.1,462.5 L198.2,463.2 L199.3,463.9 L200.3,464.6 L201.3,465.4 L202.2,466.3 L203.1,467.1 L203.9,468.1 L204.7,469.0 L205.5,470.0 L206.2,471.0 L206.9,472.1 L207.5,473.1 L208.2,474.2 L208.8,475.4 L209.3,476.5 L209.9,477.7 L210.4,478.9 L211.0,480.1 L211.5,481.3 L212.0,482.5 L212.4,483.8 L212.9,485.0 L213.4,486.3 L213.8,487.5 L214.3,488.8 L214.8,490.0 L215.2,491.3 L215.7,492.6 L216.2,493.8 L216.7,495.0 L217.2,496.3 L217.7,497.5 L218.2,498.7 L218.7,500.0 L219.2,501.2 L219.7,502.4 L220.2,503.6 L220.8,504.8 L221.3,506.0 L221.9,507.2 L222.5,508.3 L223.0,509.5 L223.6,510.7 L224.2,511.9 L224.8,513.0 L225.4,514.2 L226.0,515.3 L226.6,516.5 L227.2,517.6 L227.9,518.7 L228.5,519.9 L229.2,521.0 L229.8,522.1 L230.5,523.2 L231.2,524.3 L231.9,525.4 L232.6,526.5 L233.3,527.6 L234.0,528.7 L234.7,529.8 L235.4,530.8 L236.2,531.9 L236.9,533.0 L237.7,534.0 L238.5,535.1 L239.3,536.1 L240.0,537.2 L240.8,538.2 L241.7,539.2 L242.5,540.3 L243.3,541.3 L244.2,542.3 L245.0,543.3 L245.9,544.3 L246.7,545.2 L247.6,546.2 L248.5,547.2 L249.4,548.1 L250.3,549.1 L251.3,550.0 L252.2,550.9 L253.2,551.8 L254.1,552.7 L255.1,553.5 L256.1,554.4 L257.1,555.2 L258.1,556.1 L259.1,556.9 L260.1,557.7 L261.2,558.4 L262.2,559.2 L263.3,559.9 L264.4,560.6 L265.5,561.3 L266.6,562.0 L267.7,562.6 L268.8,563.3 L269.9,563.9 L271.1,564.5 L272.3,565.0 L273.5,565.6 L274.6,566.1 L275.9,566.6 L277.1,567.0 L278.3,567.5 L279.6,567.9 L280.8,568.3 L282.1,568.6 L283.4,569.0 L284.6,569.3 L285.9,569.6 L287.2,569.9 L288.5,570.2 L289.8,570.5 L291.2,570.7 L292.5,571.0 L293.8,571.2 L295.1,571.4 L296.4,571.7 L297.7,571.9 L299.0,572.1 L300.3,572.3 L301.6,572.5 L302.9,572.7 L304.2,572.9 L305.4,573.1 L306.7,573.4 L308.0,573.6 L309.2,573.8 L310.4,574.1 L311.6,574.3 L312.2,574.5" fill="none" stroke="#1e18c8" stroke-width="1.5" stroke-linejoin="round" stroke-linecap="round"/>
<path d="M45.2,575.8 L46.7,574.9 L48.2,574.2 L49.7,573.5 L51.2,573.1 L52.7,572.7 L54.3,572.4 L55.8,572.2 L57.4,572.2 L58.9,572.2 L60.5,572.2 L62.1,572.3 L63.7,572.5 L65.3,572.7 L66.9,572.9 L68.5,573.1 L70.1,573.3 L71.7,573.6 L73.3,573.8 L74.9,574.0 L76.5,574.1 L78.1,574.2 L79.8,574.3 L81.4,574.2 L83.0,574.2 L84.6,574.0 L86.2,573.8 L87.8,573.6 L89.4,573.3 L90.9,572.9 L92.5,572.5 L94.0,572.1 L95.5,571.6 L97.0,571.0 L98.4,570.4 L99.8,569.7 L101.2,569.0 L102.5,568.2 L103.8,567.4 L105.0,566.5 L106.2,565.6 L107.4,564.6 L108.5,563.6 L109.6,562.5 L110.7,561.4 L111.7,560.3 L112.7,559.1 L113.7,557.9 L114.6,556.7 L115.5,555.4 L116.4,554.1 L117.2,552.8 L118.0,551.5 L118.8,550.1 L119.6,548.7 L120.4,547.3 L121.1,545.8 L121.8,544.4 L122.5,542.9 L123.2,541.4 L123.9,539.9 L124.5,538.4 L125.2,536.9 L125.8,535.4 L126.5,533.9 L127.1,532.3 L127.7,530.8 L128.3,529.3 L128.9,527.7 L129.5,526.2 L130.1,524.7 L130.7,523.2 L131.2,521.7 L131.8,520.2 L132.4,518.7 L133.0,517.2 L133.6,515.7 L134.2,514.2 L134.7,512.7 L135.3,511.2 L135.9,509.7 L136.4,508.2 L137.0,506.8 L137.6,505.3 L138.1,503.8 L138.7,502.3 L139.2,500.9 L139.8,499.4 L140.3,497.9 L140.9,496.5 L141.4,495.0 L142.0,493.5 L142.5,492.0 L143.1,490.6 L143.6,489.1 L144.1,487.6 L144.7,486.2 L145.2,484.7 L145.7,483.2 L146.3,481.8 L146.8,480.3 L147.3,478.8 L147.8,477.3 L148.3,475.8 L148.9,474.4 L149.4,472.9 L149.9,471.4 L150.4,469.9 L150.9,468.4 L151.4,466.9 L151.9,465.4 L152.4,463.9 L152.9,462.4 L153.5,460.9 L154.0,459.4 L154.5,457.8 L154.9,456.3 L155.4,454.8 L155.9,453.2 L156.4,451.7 L156.9,450.1 L157.4,448.6 L157.9,447.1 L158.4,445.5 L158.9,444.0 L159.4,442.4 L159.9,440.9 L160.5,439.3 L161.0,437.8 L161.5,436.3 L162.0,434.7 L162.6,433.2 L163.1,431.7 L163.7,430.2 L164.2,428.7 L164.8,427.2 L165.4,425.7 L165.9,424.2 L166.5,422.8 L167.1,421.3 L167.8,419.9 L168.4,418.4 L169.0,417.0 L169.7,415.6 L170.4,414.2 L171.0,412.9 L171.7,411.5 L172.5,410.2 L173.3,409.0 L174.2,408.0 L175.4,407.3 L176.8,406.8 L178.3,406.7 L180.0,406.6 L181.8,406.5 L183.5,406.3 L185.2,406.0 L186.8,405.6 L188.4,405.2 L190.0,405.0 L191.5,404.8 L192.9,404.9 L194.3,405.2 L195.6,405.8 L196.9,406.6 L198.1,407.5 L199.2,408.6 L200.3,409.7 L201.2,410.9 L202.1,412.2 L203.0,413.5 L203.8,414.8 L204.5,416.2 L205.2,417.6 L205.9,419.0 L206.5,420.5 L207.1,422.0 L207.7,423.5 L208.2,425.0 L208.7,426.5 L209.2,428.1 L209.7,429.6 L210.2,431.2 L210.7,432.7 L211.2,434.2 L211.7,435.8 L212.2,437.3 L212.7,438.8 L213.2,440.4 L213.7,441.9 L214.1,443.4 L214.6,445.0 L215.1,446.5 L215.6,448.0 L216.1,449.5 L216.5,451.0 L217.0,452.6 L217.5,454.1 L218.0,455.6 L218.4,457.1 L218.9,458.6 L219.4,460.1 L219.9,461.6 L220.3,463.1 L220.8,464.7 L221.3,466.2 L221.8,467.7 L222.3,469.2 L222.8,470.7 L223.3,472.2 L223.8,473.7 L224.3,475.2 L224.8,476.7 L225.3,478.2 L225.8,479.7 L226.3,481.1 L226.8,482.6 L227.3,484.1 L227.8,485.6 L228.4,487.1 L228.9,488.6 L229.4,490.1 L230.0,491.6 L230.5,493.1 L231.1,494.6 L231.6,496.0 L232.2,497.5 L232.7,499.0 L233.3,500.5 L233.9,502.0 L234.5,503.5 L235.1,505.0 L235.7,506.4 L236.3,507.9 L236.9,509.4 L237.5,510.9 L238.2,512.4 L238.8,513.9 L239.5,515.3 L240.1,516.8 L240.8,518.3 L241.5,519.7 L242.2,521.2 L242.9,522.6 L243.6,524.1 L244.3,525.5 L245.1,526.9 L245.8,528.4 L246.6,529.8 L247.4,531.2 L248.2,532.5 L249.0,533.9 L249.9,535.2 L250.7,536.6 L251.6,537.9 L252.5,539.2 L253.4,540.5 L254.4,541.7 L255.3,543.0 L256.3,544.2 L257.3,545.4 L258.3,546.6 L259.4,547.7 L260.5,548.9 L261.6,550.0 L262.7,551.0 L263.8,552.1 L265.0,553.1 L266.2,554.1 L267.4,555.1 L268.7,556.0 L270.0,556.9 L271.3,557.8 L272.6,558.6 L274.0,559.4 L275.4,560.2 L276.8,560.9 L278.3,561.6 L279.7,562.3 L281.2,563.0 L282.7,563.6 L284.2,564.2 L285.8,564.8 L287.3,565.4 L288.9,565.9 L290.4,566.4 L292.0,567.0 L293.5,567.5 L295.1,568.0 L296.6,568.5 L298.2,568.9 L299.7,569.4 L301.2,569.9 L302.7,570.3 L304.2,570.8 L305.7,571.2 L307.2,571.7 L308.6,572.2 L310.0,572.6 L311.4,573.1 L312.1,573.3" fill="none" stroke="#a944e4" stroke-width="1.4" stroke-linejoin="round" stroke-linecap="round"/>
<path d="M45.2,575.6 L46.8,574.9 L48.4,574.2 L50.1,573.7 L51.8,573.2 L53.4,572.8 L55.1,572.4 L56.8,572.1 L58.5,571.9 L60.3,571.7 L62.0,571.6 L63.7,571.5 L65.4,571.5 L67.2,571.5 L68.9,571.5 L70.7,571.5 L72.4,571.6 L74.2,571.6 L75.9,571.7 L77.7,571.8 L79.4,571.8 L81.2,571.9 L82.9,571.9 L84.6,571.9 L86.4,571.9 L88.1,571.9 L89.8,571.8 L91.5,571.7 L93.2,571.5 L94.9,571.3 L96.5,571.1 L98.2,570.7 L99.8,570.3 L101.4,569.9 L103.0,569.3 L104.6,568.7 L106.2,568.1 L107.8,567.4 L109.4,566.7 L111.0,566.0 L112.6,565.2 L114.3,564.5 L115.9,563.8 L117.6,563.1 L119.2,562.4 L120.8,561.6 L122.3,560.8 L123.7,559.8 L125.0,558.8 L126.2,557.6 L127.3,556.3 L128.2,554.9 L129.1,553.5 L129.9,551.9 L130.7,550.4 L131.4,548.9 L132.2,547.3 L132.9,545.7 L133.6,544.2 L134.3,542.6 L135.0,541.0 L135.7,539.4 L136.4,537.8 L137.0,536.2 L137.7,534.6 L138.3,533.0 L138.9,531.3 L139.5,529.7 L140.1,528.1 L140.7,526.4 L141.3,524.8 L141.8,523.2 L142.4,521.5 L142.9,519.8 L143.4,518.2 L144.0,516.5 L144.5,514.9 L145.0,513.2 L145.5,511.5 L146.0,509.8 L146.5,508.2 L146.9,506.5 L147.4,504.8 L147.9,503.1 L148.3,501.4 L148.8,499.7 L149.2,498.0 L149.7,496.3 L150.1,494.6 L150.5,492.9 L151.0,491.2 L151.4,489.5 L151.8,487.8 L152.2,486.1 L152.6,484.4 L153.0,482.7 L153.4,481.0 L153.8,479.3 L154.2,477.6 L154.6,475.9 L155.0,474.2 L155.4,472.5 L155.8,470.8 L156.2,469.1 L156.6,467.4 L157.0,465.7 L157.4,464.0 L157.7,462.4 L158.1,460.7 L158.5,459.0 L158.9,457.3 L159.3,455.6 L159.7,453.9 L160.1,452.3 L160.5,450.6 L160.9,448.9 L161.3,447.3 L161.7,445.6 L162.2,443.9 L162.6,442.3 L163.0,440.6 L163.5,439.0 L163.9,437.3 L164.4,435.7 L164.9,434.0 L165.4,432.4 L165.9,430.8 L166.4,429.1 L166.9,427.5 L167.4,425.9 L168.0,424.3 L168.5,422.6 L169.1,421.0 L169.7,419.4 L170.3,417.8 L171.0,416.2 L171.6,414.6 L172.3,413.0 L173.0,411.4 L173.7,409.8 L174.4,408.2 L175.2,406.6 L175.9,405.0 L176.7,403.5 L177.6,401.9 L178.4,400.3 L179.3,398.7 L180.2,397.2 L181.1,395.6 L182.1,394.1 L183.0,392.5 L184.0,390.9 L185.1,389.4 L186.1,387.9 L187.2,386.4 L188.4,385.0 L189.5,383.7 L190.7,382.5 L192.0,381.4 L193.3,380.5 L194.6,379.7 L195.9,379.2 L197.3,378.9 L198.7,378.9 L200.0,379.1 L201.3,379.7 L202.6,380.5 L203.8,381.5 L204.8,382.7 L205.8,384.1 L206.7,385.5 L207.5,387.0 L208.2,388.6 L208.8,390.2 L209.4,391.9 L210.0,393.6 L210.5,395.3 L211.0,397.1 L211.5,398.9 L212.0,400.6 L212.4,402.4 L212.9,404.1 L213.4,405.8 L213.9,407.6 L214.3,409.3 L214.8,411.0 L215.3,412.7 L215.8,414.4 L216.2,416.1 L216.7,417.8 L217.2,419.5 L217.6,421.2 L218.1,422.9 L218.6,424.6 L219.0,426.2 L219.5,427.9 L220.0,429.6 L220.4,431.2 L220.9,432.9 L221.4,434.6 L221.9,436.2 L222.3,437.9 L222.8,439.5 L223.3,441.2 L223.7,442.8 L224.2,444.5 L224.7,446.1 L225.2,447.8 L225.6,449.4 L226.1,451.1 L226.6,452.7 L227.1,454.4 L227.6,456.0 L228.0,457.6 L228.5,459.3 L229.0,460.9 L229.5,462.6 L230.0,464.2 L230.5,465.9 L231.0,467.5 L231.5,469.1 L232.0,470.8 L232.5,472.4 L233.0,474.1 L233.5,475.7 L234.1,477.4 L234.6,479.0 L235.1,480.7 L235.6,482.4 L236.1,484.0 L236.7,485.7 L237.2,487.4 L237.8,489.0 L238.3,490.7 L238.8,492.4 L239.4,494.0 L240.0,495.7 L240.5,497.4 L241.1,499.1 L241.7,500.7 L242.3,502.4 L242.9,504.1 L243.5,505.7 L244.1,507.4 L244.8,509.0 L245.4,510.7 L246.1,512.3 L246.8,513.9 L247.5,515.5 L248.2,517.1 L248.9,518.7 L249.6,520.3 L250.4,521.9 L251.1,523.5 L251.9,525.0 L252.7,526.6 L253.6,528.1 L254.4,529.6 L255.3,531.1 L256.2,532.6 L257.1,534.0 L258.0,535.5 L259.0,536.9 L260.0,538.3 L261.0,539.7 L262.0,541.0 L263.1,542.4 L264.1,543.7 L265.2,545.0 L266.4,546.3 L267.5,547.5 L268.7,548.7 L270.0,549.9 L271.2,551.1 L272.5,552.3 L273.8,553.4 L275.2,554.5 L276.5,555.5 L277.9,556.6 L279.4,557.6 L280.8,558.5 L282.3,559.5 L283.8,560.4 L285.3,561.3 L286.8,562.2 L288.4,563.0 L289.9,563.8 L291.5,564.6 L293.1,565.3 L294.7,566.0 L296.3,566.7 L298.0,567.4 L299.6,568.0 L301.2,568.6 L302.9,569.2 L304.5,569.7 L306.2,570.2 L307.8,570.6 L309.5,571.1 L311.1,571.5 L311.9,571.7" fill="none" stroke="#c8102e" stroke-width="1.4" stroke-linejoin="round" stroke-linecap="round"/>
<path d="M45.2,575.8 L46.0,575.3 L47.8,574.3 L49.5,573.6 L51.3,573.0 L53.1,572.6 L54.8,572.3 L56.6,572.2 L58.4,572.2 L60.3,572.2 L62.1,572.4 L63.9,572.6 L65.7,572.8 L67.6,573.1 L69.4,573.3 L71.3,573.6 L73.1,573.9 L75.0,574.1 L76.9,574.3 L78.7,574.4 L80.6,574.4 L82.5,574.3 L84.4,574.2 L86.2,574.0 L88.1,573.7 L89.9,573.3 L91.7,572.9 L93.5,572.4 L95.2,571.8 L96.9,571.1 L98.6,570.4 L100.2,569.6 L101.8,568.7 L103.3,567.8 L104.8,566.8 L106.2,565.8 L107.6,564.7 L108.9,563.5 L110.1,562.3 L111.3,561.0 L112.5,559.7 L113.6,558.3 L114.7,556.9 L115.8,555.4 L116.8,553.9 L117.7,552.4 L118.7,550.8 L119.6,549.2 L120.5,547.6 L121.3,546.0 L122.1,544.3 L123.0,542.6 L123.7,540.9 L124.5,539.2 L125.2,537.4 L126.0,535.7 L126.7,533.9 L127.4,532.1 L128.1,530.4 L128.8,528.6 L129.5,526.8 L130.2,525.1 L130.8,523.3 L131.5,521.6 L132.2,519.8 L132.9,518.1 L133.5,516.3 L134.2,514.6 L134.8,512.9 L135.5,511.1 L136.1,509.4 L136.8,507.7 L137.4,505.9 L138.1,504.2 L138.7,502.5 L139.3,500.8 L139.9,499.0 L140.6,497.3 L141.2,495.6 L141.8,493.9 L142.4,492.2 L143.0,490.4 L143.6,488.7 L144.1,487.0 L144.7,485.3 L145.3,483.6 L145.9,481.8 L146.4,480.1 L147.0,478.4 L147.5,476.6 L148.0,474.9 L148.6,473.2 L149.1,471.4 L149.6,469.7 L150.1,468.0 L150.6,466.2 L151.1,464.5 L151.6,462.7 L152.1,460.9 L152.6,459.2 L153.0,457.4 L153.5,455.6 L154.0,453.9 L154.4,452.1 L154.8,450.3 L155.3,448.5 L155.7,446.7 L156.1,444.9 L156.5,443.1 L156.9,441.3 L157.3,439.5 L157.7,437.6 L158.1,435.8 L158.5,434.0 L158.9,432.2 L159.2,430.4 L159.6,428.5 L160.0,426.7 L160.4,424.9 L160.8,423.1 L161.1,421.2 L161.5,419.4 L161.9,417.6 L162.3,415.8 L162.7,414.0 L163.0,412.1 L163.4,410.3 L163.8,408.5 L164.2,406.7 L164.6,404.9 L165.0,403.1 L165.4,401.3 L165.8,399.5 L166.3,397.7 L166.7,395.9 L167.1,394.2 L167.6,392.4 L168.0,390.6 L168.5,388.8 L169.0,387.1 L169.4,385.4 L170.0,383.6 L170.5,382.0 L171.2,380.3 L171.8,378.7 L172.6,377.1 L173.4,375.6 L174.3,374.1 L175.4,372.7 L176.5,371.4 L177.7,370.1 L179.0,368.9 L180.5,367.8 L182.2,366.8 L183.9,365.9 L184.8,365.4 L185.7,365.0 L186.6,364.5 L187.5,364.1 L189.2,363.2 L190.8,362.2 L192.3,361.2 L193.7,360.5 L195.2,360.3 L196.6,360.6 L198.1,361.3 L199.5,362.4 L200.8,363.6 L201.9,365.0 L203.0,366.4 L204.0,368.0 L204.8,369.7 L205.6,371.4 L206.4,373.2 L207.0,375.0 L207.7,376.8 L208.3,378.6 L208.8,380.4 L209.4,382.2 L209.9,384.0 L210.4,385.8 L210.9,387.6 L211.4,389.4 L211.8,391.2 L212.3,393.0 L212.7,394.8 L213.1,396.6 L213.6,398.4 L214.0,400.1 L214.4,401.9 L214.8,403.7 L215.3,405.5 L215.7,407.3 L216.1,409.1 L216.5,410.9 L217.0,412.6 L217.4,414.4 L217.8,416.2 L218.2,418.0 L218.7,419.8 L219.1,421.5 L219.5,423.3 L220.0,425.1 L220.4,426.9 L220.9,428.6 L221.3,430.4 L221.7,432.2 L222.2,434.0 L222.6,435.7 L223.1,437.5 L223.5,439.3 L224.0,441.1 L224.5,442.8 L224.9,444.6 L225.4,446.4 L225.9,448.1 L226.3,449.9 L226.8,451.7 L227.3,453.4 L227.8,455.2 L228.3,457.0 L228.8,458.7 L229.3,460.5 L229.8,462.3 L230.3,464.0 L230.8,465.8 L231.3,467.6 L231.8,469.3 L232.3,471.1 L232.9,472.8 L233.4,474.6 L233.9,476.4 L234.5,478.1 L235.0,479.9 L235.6,481.6 L236.2,483.4 L236.7,485.2 L237.3,486.9 L237.9,488.7 L238.5,490.4 L239.1,492.2 L239.7,493.9 L240.3,495.7 L240.9,497.5 L241.6,499.2 L242.2,501.0 L242.8,502.7 L243.5,504.5 L244.1,506.2 L244.8,507.9 L245.5,509.7 L246.2,511.4 L246.9,513.1 L247.6,514.8 L248.4,516.5 L249.1,518.2 L249.9,519.9 L250.7,521.6 L251.5,523.3 L252.3,524.9 L253.2,526.5 L254.1,528.1 L254.9,529.7 L255.9,531.3 L256.8,532.9 L257.8,534.4 L258.8,536.0 L259.8,537.5 L260.8,538.9 L261.9,540.4 L263.0,541.8 L264.1,543.2 L265.3,544.6 L266.5,546.0 L267.7,547.3 L269.0,548.6 L270.3,549.9 L271.6,551.1 L273.0,552.4 L274.4,553.5 L275.8,554.7 L277.3,555.8 L278.8,556.9 L280.3,557.9 L281.8,559.0 L283.4,559.9 L285.0,560.9 L286.6,561.8 L288.3,562.7 L289.9,563.6 L291.6,564.4 L293.3,565.2 L295.0,566.0 L296.7,566.7 L298.4,567.4 L300.2,568.0 L301.9,568.7 L303.6,569.2 L305.4,569.8 L307.1,570.3 L308.9,570.8 L310.6,571.3 L312.3,571.7 L312.3,571.7" fill="none" stroke="#1e18c8" stroke-width="1.5" stroke-linejoin="round" stroke-linecap="round"/>
<text x="113.3" y="370.1" font-size="13.3" font-weight="normal" text-anchor="start" font-family="Liberation Sans, sans-serif" >(b)</text>
<text x="107.0" y="398.4" font-size="13.3" font-weight="normal" text-anchor="start" font-family="Liberation Sans, sans-serif" >(a)</text>
<text x="267.9" y="455.6" font-size="13.3" font-weight="normal" text-anchor="start" font-family="Liberation Sans, sans-serif" >(c)</text>
<text x="270.9" y="507.2" font-size="13.3" font-weight="normal" text-anchor="start" font-family="Liberation Sans, sans-serif" >(d)</text>
<line x1="129.7" y1="361.7" x2="172.0" y2="369.9" stroke="#222" stroke-width="0.9"/><polygon points="175.3,370.5 171.7,371.1 172.2,368.6" fill="#111"/>
<line x1="123.0" y1="389.2" x2="174.5" y2="398.7" stroke="#222" stroke-width="0.9"/><polygon points="177.8,399.3 174.2,399.9 174.7,397.5" fill="#111"/>
<line x1="269.3" y1="446.4" x2="216.3" y2="437.0" stroke="#222" stroke-width="0.9"/><polygon points="213.0,436.4 216.6,435.8 216.1,438.2" fill="#111"/>
<line x1="272.6" y1="496.6" x2="216.2" y2="485.2" stroke="#222" stroke-width="0.9"/><polygon points="212.9,484.5 216.5,484.0 216.0,486.4" fill="#111"/>
</svg>
</body></html>
